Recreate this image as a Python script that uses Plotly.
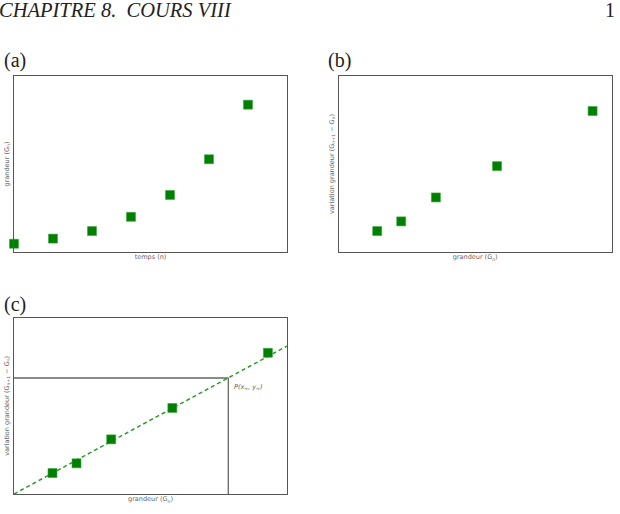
import plotly.graph_objects as go

# ---- data ----
temps_n = [0, 1, 2, 3, 4, 5, 6]
grandeur_a = [0.47, 0.76, 1.19, 2.00, 3.24, 5.27, 8.37]

grandeur_b = [1.41, 2.29, 3.56, 5.80, 9.30]
variation_b = [1.19, 1.74, 3.10, 4.88, 8.01]

fit_slope = 0.839
fit_intercept = 0.0
x_inf = 7.85
y_inf = 6.58

W, H = 620, 514
GREEN = "#007f00"
BOX = "#555555"

def px(x):
    return x / W

def py(y):
    return 1 - y / H

fig = go.Figure()

marker = dict(symbol="square", size=9, color=GREEN, line=dict(width=0.6, color="#3aa83a"))

fig.add_trace(go.Scatter(x=temps_n, y=grandeur_a, mode="markers", marker=marker,
                         xaxis="x", yaxis="y", showlegend=False, cliponaxis=False))
fig.add_trace(go.Scatter(x=grandeur_b, y=variation_b, mode="markers", marker=marker,
                         xaxis="x2", yaxis="y2", showlegend=False, cliponaxis=False))

# panel c
xr = [0, 10]
fig.add_trace(go.Scatter(x=[0, x_inf], y=[y_inf, y_inf], mode="lines",
                         line=dict(color="#666666", width=1.3),
                         xaxis="x3", yaxis="y3", showlegend=False))
fig.add_trace(go.Scatter(x=[x_inf, x_inf], y=[0, y_inf], mode="lines",
                         line=dict(color="#666666", width=1.3),
                         xaxis="x3", yaxis="y3", showlegend=False))
fig.add_trace(go.Scatter(x=xr, y=[fit_intercept + fit_slope * v for v in xr], mode="lines",
                         line=dict(color="#2e9a2e", width=1.5, dash="4px,3px"),
                         xaxis="x3", yaxis="y3", showlegend=False))
fig.add_trace(go.Scatter(x=grandeur_b, y=variation_b, mode="markers", marker=marker,
                         xaxis="x3", yaxis="y3", showlegend=False, cliponaxis=False))

axis_common = dict(showgrid=False, zeroline=False, showticklabels=False, ticks="",
                   showline=True, mirror=True, linecolor=BOX, linewidth=1.4,
                   title_font=dict(size=6.5, color="#666666", family="DejaVu Sans"),
                   title_standoff=2)

yA = [py(252), py(76)]
yC = [py(494), py(317.7)]
xA = [px(14), px(287)]
xB = [px(338.7), px(611.7)]

fig.update_layout(
    width=W, height=H, margin=dict(l=0, r=0, t=0, b=0),
    paper_bgcolor="white", plot_bgcolor="white",
    xaxis=dict(domain=xA, range=[0, 7], anchor="y", title_text="temps (n)", **axis_common),
    yaxis=dict(domain=yA, range=[0, 10], anchor="x", title_text="grandeur (G<sub>n</sub>)", **axis_common),
    xaxis2=dict(domain=xB, range=[0, 10], anchor="y2", title_text="grandeur (G<sub>n</sub>)", **axis_common),
    yaxis2=dict(domain=yA, range=[0, 10], anchor="x2",
                title_text="variation grandeur (G<sub>n+1</sub> − G<sub>n</sub>)", **axis_common),
    xaxis3=dict(domain=xA, range=xr, anchor="y3", title_text="grandeur (G<sub>n</sub>)", **axis_common),
    yaxis3=dict(domain=yC, range=[0, 10], anchor="x3",
                title_text="variation grandeur (G<sub>n+1</sub> − G<sub>n</sub>)", **axis_common),
)

serif = "Liberation Serif"
fig.add_annotation(x=px(-3), y=py(10), xref="paper", yref="paper", xanchor="left", yanchor="middle",
                   text="<i>CHAPITRE 8.  COURS VIII</i>", showarrow=False,
                   font=dict(family=serif, size=20.5, color="#222222"))
fig.add_annotation(x=px(617), y=py(10), xref="paper", yref="paper", xanchor="right", yanchor="middle",
                   text="1", showarrow=False, font=dict(family=serif, size=20, color="#222222"))
for lab, xx, yy in [("(a)", 2, 60), ("(b)", 326, 60), ("(c)", 2, 304)]:
    fig.add_annotation(x=px(xx), y=py(yy), xref="paper", yref="paper", xanchor="left", yanchor="middle",
                       text=lab, showarrow=False, font=dict(family=serif, size=20, color="#222222"))

fig.add_annotation(x=x_inf, y=y_inf, xref="x3", yref="y3", xanchor="left", yanchor="top",
                   xshift=4, yshift=-3, text="<i>P(x<sub>∞</sub>, y<sub>∞</sub>)</i>", showarrow=False,
                   font=dict(family="DejaVu Sans", size=6.5, color="#555555"))

fig.write_html("out.html")
